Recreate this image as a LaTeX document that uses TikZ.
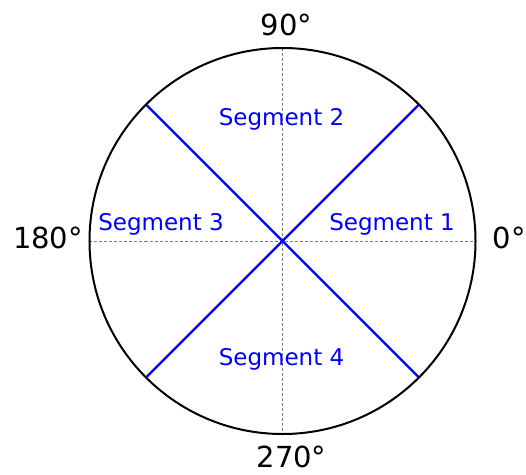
\documentclass[tikz,border=0pt]{standalone}
\usepackage{fontspec}
\setmainfont{DejaVu Sans}
\begin{document}
\begin{tikzpicture}[x=1pt,y=1pt,
  deg/.style={font=\fontsize{29}{32}\selectfont, text=black, inner sep=0pt, anchor=base},
  seg/.style={font=\fontsize{23}{26}\selectfont, text=blue, inner sep=0pt, anchor=base},
  axis/.style={gray, line width=0.8pt, dash pattern=on 3pt off 2pt},
  divider/.style={blue, line width=2.4pt}]
\useasboundingbox (-282.5,-233) rectangle (243.5,241);
\coordinate (O) at (0,0);
\coordinate (E) at (0:193);
\coordinate (N) at (90:193);
\coordinate (W) at (180:193);
\coordinate (S) at (270:193);
\coordinate (NE) at (45:193);
\coordinate (NW) at (135:193);
\coordinate (SW) at (225:193);
\coordinate (SE) at (315:193);
\draw[axis] (W) -- (E);
\draw[axis] (N) -- (S);
\draw[divider] (NE) -- (SW);
\draw[divider] (NW) -- (SE);
\draw[black, line width=2pt] (O) circle (193);
\node[deg] (l90) at (4,205) {90°};
\node[deg] (l270) at (9,-226) {270°};
\node[deg] (l180) at (-234.5,-7) {180°};
\node[deg, anchor=base west] (l0) at (210,-7) {0°};
\node[seg] (s1) at (109.5,11) {Segment 1};
\node[seg] (s2) at (-1,116) {Segment 2};
\node[seg] (s3) at (-121.5,11) {Segment 3};
\node[seg] (s4) at (-1,-124) {Segment 4};
\end{tikzpicture}
\end{document}
